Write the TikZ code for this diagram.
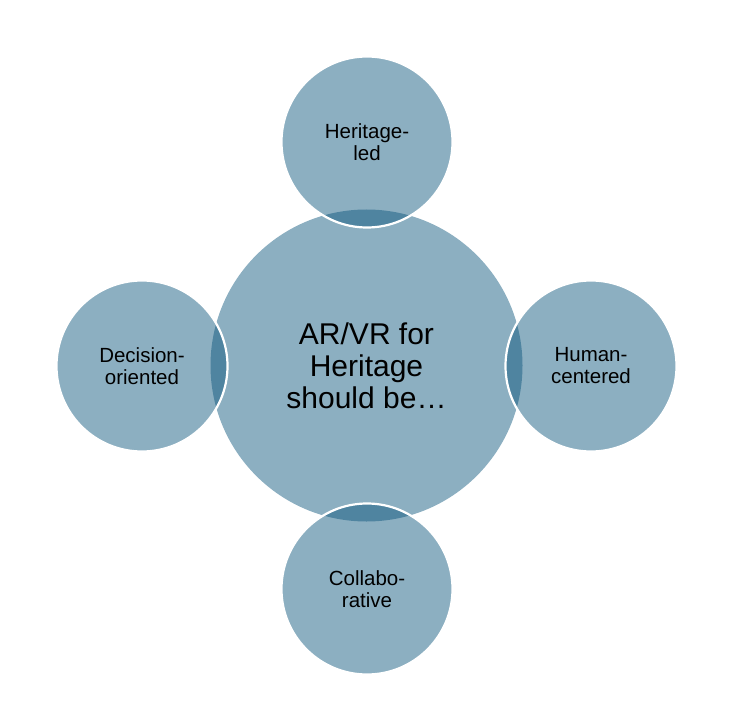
\documentclass[tikz,border=0pt]{standalone}
\usepackage{fontspec}
\setmainfont{Liberation Sans}
\definecolor{hubblue}{RGB}{140,175,193}
\definecolor{satblue}{RGB}{11,85,123}

\begin{document}
\begin{tikzpicture}[x=1pt, y=-1pt,
    hub/.style={circle, fill=hubblue, minimum size=312pt, inner sep=0pt,
        align=center, font=\fontsize{30}{32}\selectfont},
    sat/.style={circle, fill=satblue, fill opacity=0.47, text opacity=1,
        draw=white, draw opacity=1, line width=2.2pt, minimum size=171pt,
        inner sep=0pt, align=center, font=\fontsize{20.5}{22}\selectfont}]
        % page frame
        \useasboundingbox (0, 0) rectangle (733, 703);
        \node[hub] (hub) at (366.5, 365.5) {AR/VR for\\Heritage\\should be…};
        % satellites around the hub
        \node[sat] (led) at (367, 142) {Heritage-\\led};
        \node[sat] (human) at (591, 366) {Human-\\centered};
        \node[sat] (collab) at (367, 589) {Collabo-\\rative};
        \node[sat] (decision) at (142, 366) {Decision-\\oriented};
    \end{tikzpicture}
\end{document}
